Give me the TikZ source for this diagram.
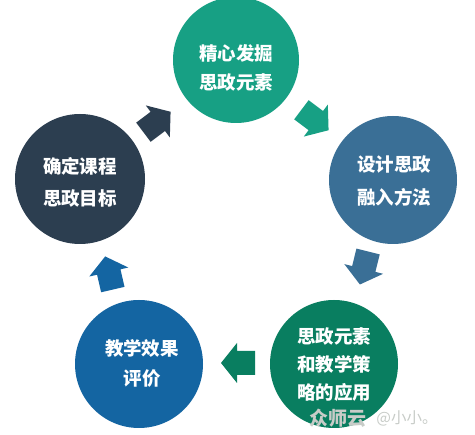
\documentclass[tikz,border=0pt]{standalone}
\usepackage{fontspec}
\newfontfamily\cjk{Noto Sans CJK SC}
\definecolor{cteal}{RGB}{23,160,132}
\definecolor{csteel}{RGB}{58,111,150}
\definecolor{cgreen}{RGB}{9,126,96}
\definecolor{cblue}{RGB}{20,101,162}
\definecolor{cnavy}{RGB}{44,62,80}
\definecolor{cwm}{RGB}{200,204,200}
\tikzset{
  stage/.style={circle, draw=none, inner sep=0pt},
  stagetext/.style={text=white, align=center, inner sep=0pt,
    font=\cjk\bfseries\fontsize{18.5}{#1}\selectfont},
  blockarrow/.pic={\fill (-17,-12) -- (1,-12) -- (1,-20) -- (17,0) -- (1,20) -- (1,12) -- (-17,12) -- cycle;},
  wmark/.style={text=cwm, inner sep=0pt}
}
\begin{document}
\begin{tikzpicture}[x=1pt,y=-1pt]
\useasboundingbox (0,0) rectangle (475,435);
\fill[white] (0,0) rectangle (475,435);
% circles
\node[stage, fill=cteal,  minimum size=126pt] (c1) at (236,60) {};
\node[stage, fill=csteel, minimum size=128pt] (c2) at (393,180) {};
\node[stage, fill=cgreen, minimum size=128pt] (c3) at (334,364) {};
\node[stage, fill=cblue,  minimum size=128pt] (c4) at (139,364) {};
\node[stage, fill=cnavy,  minimum size=130pt] (c5) at (80,179) {};
% texts
\node[stagetext=29] (t1) at (236,67.5) {精心发掘\\思政元素};
\node[stagetext=33] (t2) at (394,181.5) {设计思政\\融入方法};
\node[stagetext=28] (t3) at (334,365) {思政元素\\和教学策\\略的应用};
\node[stagetext=30] (t4) at (142,363) {教学效果\\评价};
\node[stagetext=32] (t5) at (80,182.5) {确定课程\\思政目标};
% arrows
\pic[fill=cnavy]  (a51) at (157,122) [rotate=37] {blockarrow};
\pic[fill=cteal]  (a12) at (315,120) [rotate=-37] {blockarrow};
\pic[fill=csteel] (a23) at (364,268) [rotate=-104] {blockarrow};
\pic[fill=cgreen] (a34) at (238,363) [rotate=180] {blockarrow};
\pic[fill=cblue]  (a45) at (109,273) [rotate=103] {blockarrow};
% watermark
\node[wmark, font=\cjk\bfseries\fontsize{19}{19}\selectfont] (wm1) at (338,418) {众师云};
\node[wmark, font=\cjk\fontsize{15.5}{15.5}\selectfont] (wm2) at (407,418) {@小小。};
\end{tikzpicture}
\end{document}
